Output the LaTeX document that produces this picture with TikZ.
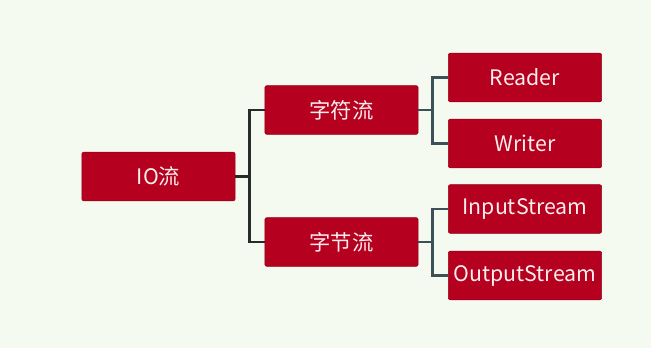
\documentclass[tikz,border=0pt]{standalone}
\usepackage{fontspec}
\setmainfont{Noto Sans CJK SC}
\usepackage{xcolor}
\definecolor{boxred}{HTML}{B5001F}
\definecolor{boxtext}{HTML}{FAEDED}
\definecolor{paper}{HTML}{F5FAF0}
\definecolor{linkdark}{HTML}{262B2B}
\definecolor{linkslate}{HTML}{3C5058}

\tikzset{
  streambox/.style={fill=boxred,draw=boxred!80!black,line width=0.4pt,rounded corners=1.5pt,
    minimum width=115pt,minimum height=36.5pt,inner sep=0pt,
    text=boxtext,font=\fontsize{16}{19}\selectfont},
  link/.style={line width=1.6pt,linkdark},
  sublink/.style={line width=1.6pt,linkslate}
}

\begin{document}
\begin{tikzpicture}[x=0.75pt,y=0.75pt]
  \fill[paper] (0,0) rectangle (651,348);
  \useasboundingbox (0,0) rectangle (651,348);
  % root and the two kinds
  \node[streambox] (io) at (158.5,171.5) {IO流};
  \node[streambox] (char) at (341.5,238) {字符流};
  \node[streambox] (byte) at (341.5,106) {字节流};
  % concrete classes
  \node[streambox] (reader) at (525,270.5) {Reader};
  \node[streambox] (writer) at (525,204.5) {Writer};
  \node[streambox] (input) at (525,139) {InputStream};
  \node[streambox] (output) at (525,72.5) {OutputStream};
  % connectors
  \draw[link] (io.east) -- ++(14,0) coordinate (iofork) |- (char.west);
  \draw[link] (iofork) |- (byte.west);
  \draw[sublink] (char.east) -- ++(14,0) coordinate (charfork) |- (reader.west);
  \draw[sublink] (charfork) |- (writer.west);
  \draw[sublink] (byte.east) -- ++(14,0) coordinate (bytefork) |- (input.west);
  \draw[sublink] (bytefork) |- (output.west);
\end{tikzpicture}
\end{document}
